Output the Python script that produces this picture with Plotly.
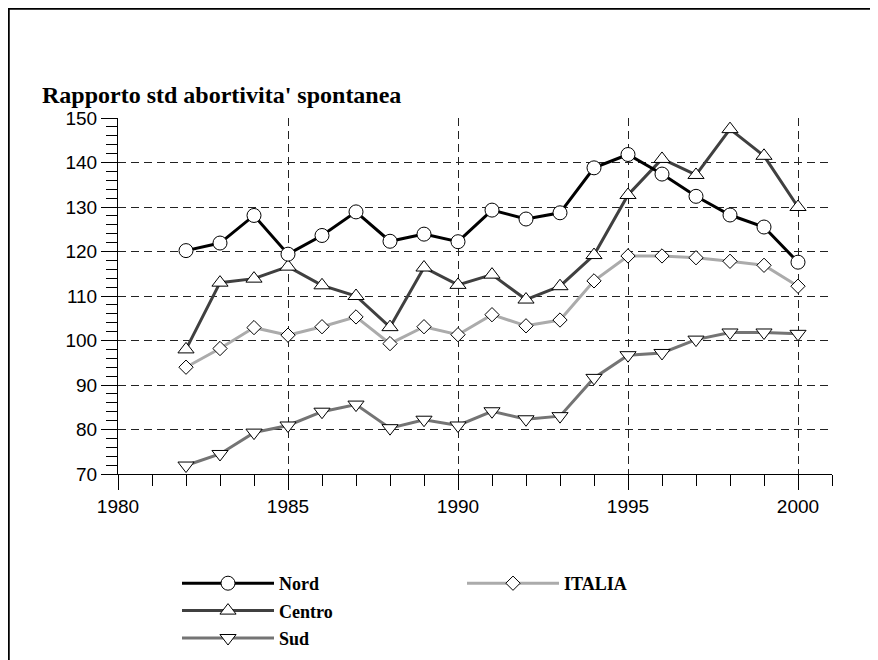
import plotly.graph_objects as go

years = list(range(1982, 2001))
nord = [120.2, 121.9, 128.1, 119.4, 123.6, 128.9, 122.3, 123.9, 122.2, 129.3, 127.3, 128.7,
        138.8, 141.8, 137.4, 132.4, 128.2, 125.5, 117.6]
centro = [98.0, 113.0, 113.9, 116.6, 112.4, 110.0, 103.0, 116.4, 112.5, 114.8, 109.2, 112.2,
          119.2, 132.7, 140.8, 137.2, 147.5, 141.5, 130.0]
sud = [71.9, 74.5, 79.3, 80.9, 84.0, 85.6, 80.3, 82.2, 80.9, 84.1, 82.3, 83.0,
       91.6, 96.7, 97.2, 100.2, 101.8, 101.8, 101.5]
italia = [94.0, 98.2, 102.9, 101.2, 103.1, 105.3, 99.3, 103.1, 101.3, 105.8, 103.3, 104.6,
          113.4, 119.0, 119.0, 118.6, 117.8, 116.9, 112.2]

fig = go.Figure()

def add(name, vals, color, symbol, size, legend, rank):
    fig.add_trace(go.Scatter(
        x=years, y=vals, name=name, mode="lines+markers",
        line=dict(color=color, width=3),
        marker=dict(symbol=symbol, size=size, color="white",
                    line=dict(color="black", width=1)),
        legend=legend, legendrank=rank, legendgroup=name,
    ))

add("Sud", sud, "#747474", "triangle-down", 14, "legend", 3)
add("ITALIA", italia, "#ababab", "diamond", 11, "legend2", 1)
add("Centro", centro, "#404040", "triangle-up", 14, "legend", 2)
add("Nord", nord, "#000000", "circle", 14, "legend", 1)

axis_font = dict(family="Liberation Sans, Arial, sans-serif", size=19, color="black")
legend_font = dict(family="Liberation Serif, Times New Roman, serif", size=18, color="black",
                   weight="bold")

# page body has an 8px margin; figure coordinates are window coordinates minus 8
W, H = 870, 690
L, T, R = 110, 110, 46
PW, PH = 714, 356
B = H - T - PH

fig.update_layout(
    width=W, height=H,
    margin=dict(l=L, r=R, t=T, b=B),
    paper_bgcolor="white", plot_bgcolor="white",
    xaxis=dict(range=[1980, 2001], dtick=5, tick0=1980, ticks="outside", ticklen=15,
               tickcolor="black", showline=True, linecolor="black", linewidth=1,
               showgrid=True, gridcolor="#222222", griddash="8px,5px", gridwidth=1,
               zeroline=False, tickfont=axis_font,
               minor=dict(dtick=1, ticklen=11, tickcolor="black", ticks="outside", showgrid=False)),
    yaxis=dict(range=[70, 150], dtick=10, tick0=70, ticks="outside", ticklen=16,
               tickcolor="black", showline=True, linecolor="black", linewidth=1,
               showgrid=True, gridcolor="#222222", griddash="8px,5px", gridwidth=1,
               zeroline=False, tickfont=axis_font,
               minor=dict(dtick=2, ticklen=11, tickcolor="black", ticks="outside", showgrid=False)),
    legend=dict(x=(169 - L) / PW, y=(T + PH - 557) / PH, xanchor="left", yanchor="top",
                orientation="v", font=legend_font, itemwidth=92, bgcolor="rgba(0,0,0,0)",
                tracegroupgap=1),
    legend2=dict(x=(454 - L) / PW, y=(T + PH - 557) / PH, xanchor="left", yanchor="top",
                 orientation="v", font=legend_font, itemwidth=92, bgcolor="rgba(0,0,0,0)"),
    showlegend=True,
)

fig.add_annotation(text="Rapporto std abortivita' spontanea", xref="paper", yref="paper",
                   x=(32 - L) / PW, y=(T + PH - 87) / PH, xanchor="left", yanchor="middle",
                   showarrow=False,
                   font=dict(family="Liberation Serif, Times New Roman, serif", size=24,
                             color="black", weight="bold"))

fig.add_shape(type="rect", xref="paper", yref="paper",
              x0=(0.5 - L) / PW, x1=1.5, y0=-1.5, y1=(T + PH - 0.5) / PH,
              line=dict(color="black", width=2.5), fillcolor="rgba(0,0,0,0)", layer="below")

fig.write_html("out.html")
